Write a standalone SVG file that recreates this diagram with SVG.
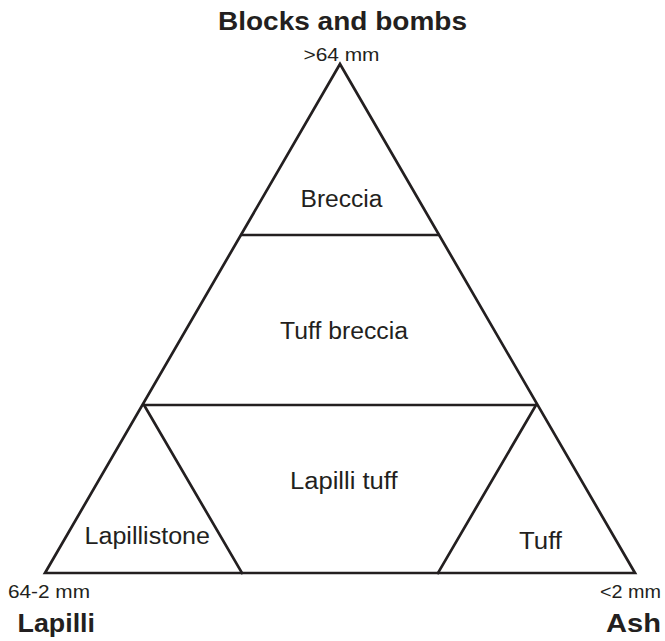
<svg xmlns="http://www.w3.org/2000/svg" width="665" height="641" viewBox="0 0 665 641">
<style>
.ln{stroke:#231f20;stroke-width:2.7;fill:none;stroke-linejoin:miter;stroke-linecap:square}
.t{font-family:"Liberation Sans",Arial,sans-serif;fill:#231f20}
.b{font-weight:bold;font-size:25px}
.s{font-size:18px}
.r{font-size:23px}
</style>
<rect width="665" height="641" fill="#fff"/>
<g id="connectors">
<polygon class="ln" points="340,64 45,573 635,573"/>
<line class="ln" x1="242" y1="235" x2="438" y2="235"/>
<line class="ln" x1="144" y1="405" x2="536" y2="405"/>
<line class="ln" x1="144" y1="405" x2="242" y2="573"/>
<line class="ln" x1="536" y1="405" x2="438" y2="573"/>
</g>
<g id="title-top"><text class="t b" x="218" y="30" textLength="249" lengthAdjust="spacingAndGlyphs">Blocks and bombs</text></g>
<g id="label-top"><text class="t s" x="303.5" y="61" textLength="76" lengthAdjust="spacingAndGlyphs">&gt;64 mm</text></g>
<g id="label-left"><text class="t s" x="8" y="598" textLength="82" lengthAdjust="spacingAndGlyphs">64-2 mm</text></g>
<g id="title-left"><text class="t b" x="17.5" y="632" textLength="77.5" lengthAdjust="spacingAndGlyphs">Lapilli</text></g>
<g id="label-right"><text class="t s" x="600" y="598" textLength="61" lengthAdjust="spacingAndGlyphs">&lt;2 mm</text></g>
<g id="title-right"><text class="t b" x="606" y="632" textLength="55" lengthAdjust="spacingAndGlyphs">Ash</text></g>
<g id="breccia"><text class="t r" x="300.5" y="207" textLength="82" lengthAdjust="spacingAndGlyphs">Breccia</text></g>
<g id="tuff-breccia"><text class="t r" x="280" y="338.5" textLength="128" lengthAdjust="spacingAndGlyphs">Tuff breccia</text></g>
<g id="lapilli-tuff"><text class="t r" x="290" y="489" textLength="107.5" lengthAdjust="spacingAndGlyphs">Lapilli tuff</text></g>
<g id="lapillistone"><text class="t r" x="84.5" y="543.5" textLength="125.5" lengthAdjust="spacingAndGlyphs">Lapillistone</text></g>
<g id="tuff"><text class="t r" x="519" y="549" textLength="43" lengthAdjust="spacingAndGlyphs">Tuff</text></g>
</svg>
